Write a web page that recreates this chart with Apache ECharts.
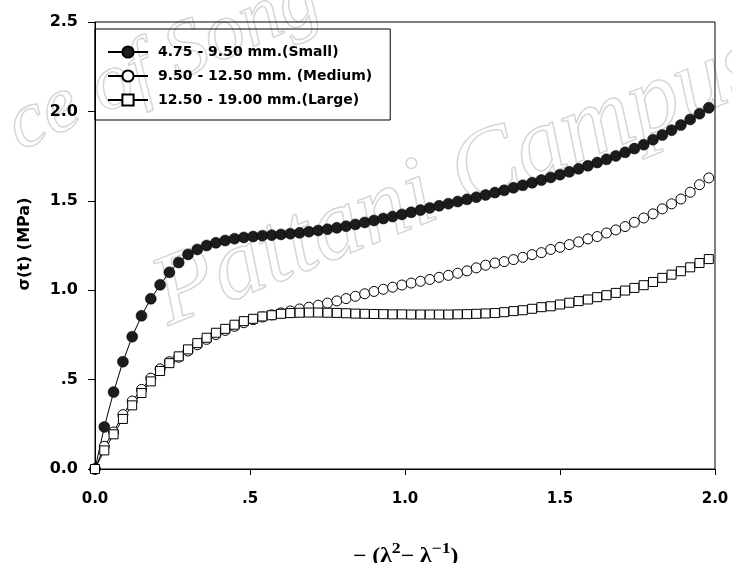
<!DOCTYPE html>
<html>
<head>
<meta charset="utf-8">
<script src="https://cdn.jsdelivr.net/npm/echarts@6/dist/echarts.min.js"></script>
<style>
  html, body { margin: 0; padding: 0; background: #fff; }
  #main { width: 732px; height: 563px; }
</style>
</head>
<body>
<div id="main"></div>
<script type="text/javascript">
    // strain -(λ² - λ⁻¹)
    var strain = [0, 0.03, 0.06, 0.09, 0.12, 0.15, 0.18, 0.21, 0.24, 0.27,
        0.30, 0.33, 0.36, 0.39, 0.42, 0.45, 0.48, 0.51, 0.54, 0.57,
        0.60, 0.63, 0.66, 0.69, 0.72, 0.75, 0.78, 0.81, 0.84, 0.87,
        0.90, 0.93, 0.96, 0.99, 1.02, 1.05, 1.08, 1.11, 1.14, 1.17,
        1.20, 1.23, 1.26, 1.29, 1.32, 1.35, 1.38, 1.41, 1.44, 1.47,
        1.50, 1.53, 1.56, 1.59, 1.62, 1.65, 1.68, 1.71, 1.74, 1.77,
        1.80, 1.83, 1.86, 1.89, 1.92, 1.95, 1.98];

    // σ(t) MPa
    var small = [0, 0.235, 0.43, 0.60, 0.74, 0.857, 0.952, 1.03, 1.10, 1.155,
        1.20, 1.228, 1.25, 1.265, 1.278, 1.288, 1.295, 1.30, 1.305, 1.308,
        1.312, 1.316, 1.321, 1.327, 1.334, 1.341, 1.349, 1.358, 1.368, 1.379,
        1.39, 1.401, 1.412, 1.424, 1.436, 1.448, 1.46, 1.472, 1.484, 1.496,
        1.508, 1.52, 1.533, 1.546, 1.559, 1.573, 1.587, 1.601, 1.616, 1.631,
        1.646, 1.662, 1.679, 1.696, 1.714, 1.732, 1.751, 1.771, 1.792, 1.814,
        1.842, 1.868, 1.895, 1.924, 1.955, 1.987, 2.02];
    var medium = [0, 0.127, 0.207, 0.304, 0.38, 0.445, 0.508, 0.56, 0.60, 0.625,
        0.66, 0.695, 0.725, 0.752, 0.775, 0.798, 0.818, 0.835, 0.85, 0.862,
        0.873, 0.884, 0.895, 0.905, 0.916, 0.928, 0.94, 0.953, 0.966, 0.98,
        0.993, 1.005, 1.017, 1.029, 1.04, 1.05, 1.06, 1.072, 1.083, 1.095,
        1.108, 1.125, 1.14, 1.152, 1.16, 1.171, 1.184, 1.199, 1.21, 1.228,
        1.24, 1.255, 1.27, 1.287, 1.30, 1.32, 1.337, 1.356, 1.38, 1.404,
        1.427, 1.455, 1.483, 1.51, 1.548, 1.59, 1.628];
    var large = [0, 0.104, 0.194, 0.28, 0.356, 0.425, 0.49, 0.548, 0.592, 0.63,
        0.669, 0.704, 0.734, 0.762, 0.784, 0.807, 0.827, 0.84, 0.853, 0.86,
        0.868, 0.872, 0.874, 0.875, 0.875, 0.874, 0.873, 0.871, 0.869, 0.868,
        0.867, 0.866, 0.865, 0.865, 0.864, 0.864, 0.864, 0.864, 0.864, 0.865,
        0.866, 0.868, 0.87, 0.872, 0.877, 0.883, 0.888, 0.896, 0.905, 0.91,
        0.92, 0.93, 0.939, 0.948, 0.961, 0.972, 0.985, 0.998, 1.013, 1.028,
        1.046, 1.069, 1.087, 1.106, 1.128, 1.152, 1.174];

    var seriesNames = ['4.75 - 9.50 mm.(Small)', '9.50 - 12.50 mm. (Medium)', '12.50 - 19.00 mm.(Large)'];
    var xTicks = ['0.0', '.5', '1.0', '1.5', '2.0'];
    var yTicks = ['0.0', '.5', '1.0', '1.5', '2.0', '2.5'];

    function pairs(ys) {
        return strain.map(function (x, i) { return [x, ys[i]]; });
    }

    var font = 'DejaVu Sans, Verdana, sans-serif';
    var serif = 'Liberation Serif, Times New Roman, serif';
    var myChart = echarts.init(document.getElementById('main'));

    var option = {
        animation: false,
        backgroundColor: '#fff',
        grid: {
            left: 95, right: 17, top: 22, bottom: 94,
            show: true, borderColor: '#000', borderWidth: 1
        },
        legend: {
            left: 95, top: 29,
            orient: 'vertical',
            padding: [16, 18, 13, 12],
            itemGap: 10,
            itemWidth: 40,
            itemHeight: 14,
            borderColor: '#000',
            borderWidth: 1,
            textStyle: { fontFamily: font, fontWeight: 'bold', fontSize: 14, color: '#000', padding: [0, 0, 0, 5] },
            data: seriesNames
        },
        xAxis: {
            type: 'value',
            min: 0, max: 2, interval: 0.5,
            axisLine: { lineStyle: { color: '#000', width: 1 } },
            axisTick: { length: 6, lineStyle: { color: '#000' } },
            splitLine: { show: false },
            axisLabel: {
                margin: 23, color: '#000', fontFamily: font, fontWeight: 'bold', fontSize: 15,
                formatter: function (v) { return xTicks[Math.round(v / 0.5)]; }
            }
        },
        yAxis: {
            type: 'value',
            min: 0, max: 2.5, interval: 0.5,
            axisLine: { lineStyle: { color: '#000', width: 1 } },
            axisTick: { length: 7, lineStyle: { color: '#000' } },
            splitLine: { show: false },
            axisLabel: {
                margin: 17, color: '#000', fontFamily: font, fontWeight: 'bold', fontSize: 16,
                formatter: function (v) { return yTicks[Math.round(v / 0.5)]; }
            }
        },
        graphic: [
            // watermark
            {
                type: 'text', x: 140, y: 255, rotation: 0.38, silent: true, z: -1,
                style: { text: 'Pattani Campus', font: 'italic 100px Liberation Serif, serif', fill: 'rgba(0,0,0,0)', stroke: '#d6d6d6', lineWidth: 1.5 }
            },
            {
                type: 'text', x: -5, y: 95, rotation: 0.42, silent: true, z: -1,
                style: { text: 'ce of Song', font: 'italic 80px Liberation Serif, serif', fill: 'rgba(0,0,0,0)', stroke: '#d6d6d6', lineWidth: 1.5 }
            },
            // axis titles
            {
                type: 'text', x: 25, y: 244, rotation: Math.PI / 2,
                style: { text: 'σ(t) (MPa)', font: 'bold 16px DejaVu Sans, Verdana, sans-serif', fill: '#000', align: 'center', verticalAlign: 'middle' }
            },
            {
                type: 'text', x: 353, y: 567, scaleX: 1.18,
                style: {
                    text: '{a|− (λ}{s|2}{a|− λ}{s|−1}{a|)}',
                    verticalAlign: 'bottom',
                    rich: {
                        a: { fontFamily: serif, fontWeight: 'bold', fontSize: 20, fill: '#000', verticalAlign: 'bottom' },
                        s: { fontFamily: serif, fontWeight: 'bold', fontSize: 15, fill: '#000', verticalAlign: 'bottom', padding: [0, 0, 10, 0] }
                    }
                }
            }
        ],
        series: [
            {
                name: seriesNames[0], type: 'line', data: pairs(small), clip: false,
                symbol: 'circle', symbolSize: 11,
                itemStyle: { color: '#1c1c1c', borderColor: '#000', borderWidth: 0.5 },
                lineStyle: { color: '#000', width: 1 }
            },
            {
                name: seriesNames[1], type: 'line', data: pairs(medium), clip: false,
                symbol: 'circle', symbolSize: 10, showAllSymbol: true,
                itemStyle: { color: '#fff', borderColor: '#000', borderWidth: 1 },
                lineStyle: { color: '#000', width: 1 }
            },
            {
                name: seriesNames[2], type: 'line', data: pairs(large), clip: false,
                symbol: 'rect', symbolSize: 9, showAllSymbol: true,
                itemStyle: { color: '#fff', borderColor: '#000', borderWidth: 1 },
                lineStyle: { color: '#000', width: 1 }
            }
        ]
    };
    myChart.setOption(option);
</script>
</body>
</html>
